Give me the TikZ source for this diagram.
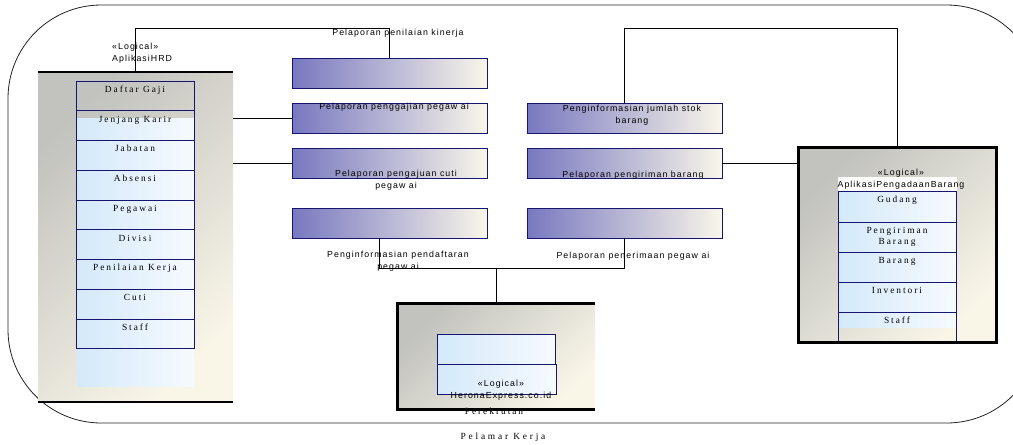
\documentclass[tikz,border=0pt]{standalone}
\usepackage{fontspec}
\setmainfont{Liberation Serif}
\setsansfont{Liberation Sans}
\newfontfamily\lblfont[LetterSpace=12]{Liberation Sans}
\newfontfamily\rowfont[LetterSpace=21]{Liberation Serif}
\usetikzlibrary{fit}

\definecolor{compA}{RGB}{194,194,190}
\definecolor{compB}{RGB}{249,246,232}
\definecolor{barA}{RGB}{120,120,192}
\definecolor{barB}{RGB}{249,246,233}
\definecolor{rowA}{RGB}{212,233,250}
\definecolor{rowB}{RGB}{246,250,254}
\definecolor{navy}{RGB}{22,22,112}

\tikzset{
  frame/.style={line width=0.7pt, draw=black!85, rounded corners=2.8cm},
  comp/.style={inner sep=0, top color=compA, bottom color=compB, shading angle=45},
  compline/.style={line width=2.4pt},
  heavy/.style={line width=2pt},
  flow/.style={inner sep=0, draw=navy, line width=0.6pt, left color=barA, right color=barB},
  rowfill/.style={left color=rowA, right color=rowB},
  rowbox/.style={inner sep=0, draw=navy, line width=0.7pt},
  rowtxt/.style={font=\rowfont\fontsize{8}{9.4}\selectfont, anchor=base, align=center, inner sep=0},
  lbl/.style={font=\lblfont\fontsize{7.5}{10}\selectfont, align=center, inner sep=0},
  link/.style={line width=0.8pt}
}

\begin{document}
\begin{tikzpicture}[x=0.03cm,y=-0.03cm]
\useasboundingbox (0,0) rectangle (1013,444);
\begin{scope}
\clip (0,0) rectangle (1013,444);
\draw[frame] (8,5) rectangle (1040,423);
\end{scope}

% AplikasiHRD
\node[comp, fit={(38,72) (233,402)}] (hrd) {};
\draw[heavy] (hrd.north west) -- (hrd.north east);
\draw[heavy] (hrd.south west) -- (hrd.south east);
\node[lbl, align=left, anchor=north west] (hrdname) at (112,43) {«Logical»\\AplikasiHRD};
\path[rowfill] (77,118) rectangle (194,386);
\foreach \t [count=\i] in {Daftar Gaji, Jenjang Karir, Jabatan, Absensi, Pegawai,
    Divisi, Penilaian Kerja, Cuti, Staff} {
  \pgfmathsetmacro\yt{81+(\i-1)*29.75}
  \node[rowbox, fit={(76,\yt) (194,\yt+29.75)}] (hrd\i) {};
  \node[rowtxt] at ([yshift=-10pt]hrd\i.north) {\t};
}

% flows
\node[flow, fit={(292,58) (487,88)}] (bar1) {};
\node[flow, fit={(292,103) (487,133)}] (bar2) {};
\node[flow, fit={(292,148) (487,178)}] (bar3) {};
\node[flow, fit={(292,208) (487,238)}] (bar4) {};
\node[flow, fit={(527,103) (722,133)}] (bar5) {};
\node[flow, fit={(527,148) (722,178)}] (bar6) {};
\node[flow, fit={(527,208) (722,238)}] (bar7) {};

\node[lbl] (lk1) at (398,33) {Pelaporan penilaian kinerja};
\node[lbl] (lk2) at (394,107) {Pelaporan penggajian pegaw ai};
\node[lbl] (lk3) at (396,180) {Pelaporan pengajuan cuti\\pegaw ai};
\node[lbl] (lk4) at (398,261) {Penginformasian pendaftaran\\pegaw ai};
\node[lbl] (lk5) at (632,115) {Penginformasian jumlah stok\\barang};
\node[lbl] (lk6) at (633,175) {Pelaporan pengiriman barang};
\node[lbl] (lk7) at (633,256) {Pelaporan penerimaan pegaw ai};

% AplikasiPengadaanBarang
\node[comp, fit={(799,148) (996,342)}] (apb) {};
\path[rowfill] (838,191) rectangle (956,327);
\fill[white] (838,177) rectangle (957,191);
\node[lbl] (apbname) at (901,179) {«Logical»\\AplikasiPengadaanBarang};
\foreach \t/\ya/\yb [count=\i] in {Gudang/191/222, {Pengiriman\\Barang}/222/252,
    Barang/252/282, Inventori/282/312, Staff/312/342} {
  \node[rowbox, fit={(838,\ya) (956,\yb)}] (apb\i) {};
  \node[rowtxt, anchor=north] at ([yshift=-4.6pt]apb\i.north) {\t};
}
\draw[compline] (apb.north west) rectangle (apb.south east);

% HeronaExpress.co.id
\node[comp, fit={(398,304) (595,409)}] (her) {};
\path[rowfill] (437,334) rectangle (556,394);
\node[rowbox, fit={(437,334) (555,364)}] (her1) {};
\node[rowbox, fit={(437,364) (556,394)}] (her2) {};
\node[lbl] (hername) at (501,390) {«Logical»\\HeronaExpress.co.id};
\node[rowtxt] (herrow) at (494,414) {Perekrutan};
\draw[compline] (her.north east) -- (her.north west) -- (her.south west) -- (her.south east);
\node[rowtxt] (pelamar) at (503,439) {\addfontfeatures{LetterSpace=30}Pelamar Kerja};

% links
\coordinate (ktop) at (0,28);
\coordinate (kjoin) at (0,268);
\draw[link] (hrd.north) -- (hrd.north |- ktop) -| (bar1.north);
\draw[link] (hrd.east |- bar2.west) -- (bar2.west);
\draw[link] (hrd.east |- bar3.west) -- (bar3.west);
\draw[link] (bar5.north) -- (bar5.north |- ktop) -| (apb.north);
\draw[link] (bar6.east) -- (apb.west |- bar6.east);
\draw[link] ([xshift=-0.3cm]bar4.south) |- (bar7.south |- kjoin) -- (bar7.south);
\draw[link, line width=1.2pt] (her.north) -- (her.north |- kjoin);
\end{tikzpicture}
\end{document}
